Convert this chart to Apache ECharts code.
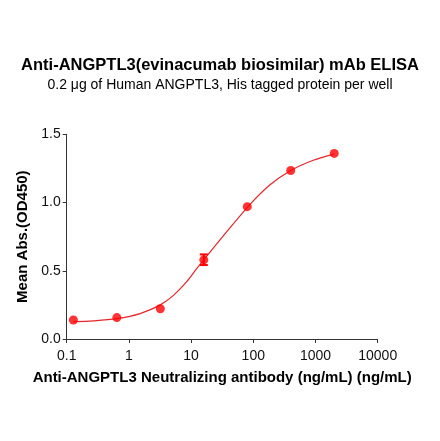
<!DOCTYPE html>
<html>
<head>
<meta charset="utf-8">
<script src="https://cdn.jsdelivr.net/npm/echarts@6/dist/echarts.min.js"></script>
<style>html,body{margin:0;padding:0;background:#fff}#c{width:440px;height:441px}</style>
</head>
<body>
<div id="c"></div>
<script>
// Measured points (concentration ng/mL, mean OD450)
var concentrations = [0.128, 0.64, 3.2, 16, 80, 400, 2000];
var meanOD = [0.139, 0.157, 0.222, 0.580, 0.970, 1.235, 1.360];
// Error bars (SD) where visible
var errConc = [16];
var errLow = [0.542];
var errHigh = [0.620];
// Fitted curve
var curveConc = [0.128, 0.27, 0.64, 1.51, 3.2, 5.2, 8.5, 12.3, 16, 35, 88, 186, 400, 920, 2000];
var curveOD = [0.127, 0.133, 0.149, 0.186, 0.25, 0.32, 0.42, 0.515, 0.58, 0.77, 0.985, 1.13, 1.235, 1.31, 1.355];
var yTicks = [0, 0.5, 1.0, 1.5];

var pts = concentrations.map(function (c, i) { return [c, meanOD[i]]; });
var curve = curveConc.map(function (c, i) { return [c, curveOD[i]]; });
var errs = errConc.map(function (c, i) { return [c, errLow[i], errHigh[i]]; });

var chart = echarts.init(document.getElementById('c'));
var font = 'Liberation Sans, Arial, sans-serif';
chart.setOption({
  animation: false,
  backgroundColor: '#fff',
  title: {
    text: 'Anti-ANGPTL3(evinacumab biosimilar) mAb ELISA',
    subtext: '0.2 \u03bcg of Human ANGPTL3, His tagged protein per well',
    left: 'center',
    top: 52,
    itemGap: 4,
    textStyle: { fontFamily: font, fontSize: 16.5, fontWeight: 'bold', color: '#000' },
    subtextStyle: { fontFamily: font, fontSize: 14, color: '#000' }
  },
  grid: { left: 66.7, right: 62.3, top: 134.3, bottom: 102 },
  xAxis: {
    type: 'log', logBase: 10, min: 0.1, max: 10000,
    name: 'Anti-ANGPTL3 Neutralizing antibody (ng/mL) (ng/mL)',
    nameLocation: 'middle', nameGap: 31,
    nameTextStyle: { fontFamily: font, fontSize: 15, fontWeight: 'bold', color: '#000' },
    axisLine: { lineStyle: { color: '#333', width: 1 } },
    axisTick: { length: 4, lineStyle: { color: '#333' } },
    minorTick: { show: false },
    splitLine: { show: false },
    axisLabel: { fontFamily: font, fontSize: 14, color: '#111', margin: 10,
      formatter: function (v) { return String(v); } }
  },
  yAxis: {
    type: 'value', min: 0, max: 1.5, interval: 0.5,
    name: 'Mean Abs.(OD450)',
    nameLocation: 'middle', nameGap: 34,
    nameTextStyle: { fontFamily: font, fontSize: 15, fontWeight: 'bold', color: '#000' },
    axisLine: { show: true, lineStyle: { color: '#333', width: 1 } },
    axisTick: { show: true, length: 4, lineStyle: { color: '#333' } },
    splitLine: { show: false },
    axisLabel: { fontFamily: font, fontSize: 14, color: '#111', margin: 6,
      formatter: function (v) { return v.toFixed(1); } }
  },
  series: [
    {
      type: 'line', data: curve, smooth: 0.3, showSymbol: false, symbol: 'none',
      lineStyle: { color: '#e3262b', width: 1.2 }, z: 2
    },
    {
      type: 'custom', data: errs, z: 3,
      renderItem: function (params, api) {
        var x = api.value(0);
        var lo = api.coord([x, api.value(1)]);
        var hi = api.coord([x, api.value(2)]);
        var w = 4;
        var st = { stroke: '#ff0000', lineWidth: 2 };
        return { type: 'group', children: [
          { type: 'line', shape: { x1: lo[0], y1: lo[1], x2: hi[0], y2: hi[1] }, style: st },
          { type: 'line', shape: { x1: lo[0] - w, y1: lo[1], x2: lo[0] + w, y2: lo[1] }, style: st },
          { type: 'line', shape: { x1: hi[0] - w, y1: hi[1], x2: hi[0] + w, y2: hi[1] }, style: st }
        ] };
      }
    },
    {
      type: 'scatter', data: pts, symbol: 'circle', symbolSize: 9,
      itemStyle: { color: '#ff0000' }, z: 4
    }
  ]
});
</script>
</body>
</html>
